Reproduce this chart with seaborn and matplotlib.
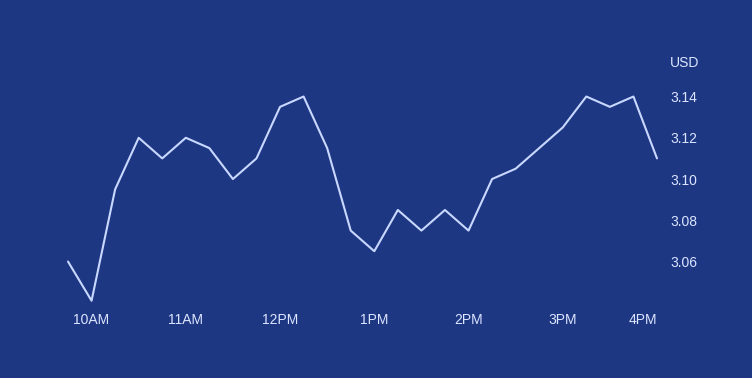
import numpy as np
import pandas as pd
import matplotlib
matplotlib.use("Agg")
import matplotlib.pyplot as plt
import seaborn as sns

# 15-minute prices from 9:45 to 16:00
times = ["9:45", "10:00", "10:15", "10:30", "10:45", "11:00", "11:15", "11:30", "11:45",
         "12:00", "12:15", "12:30", "12:45", "13:00", "13:15", "13:30", "13:45", "14:00",
         "14:15", "14:30", "14:45", "15:00", "15:15", "15:30", "15:45", "16:00"]
prices = [3.060, 3.041, 3.095, 3.120, 3.110, 3.120, 3.115, 3.100, 3.110,
          3.135, 3.140, 3.115, 3.075, 3.065, 3.085, 3.075, 3.085, 3.075,
          3.100, 3.105, 3.115, 3.125, 3.140, 3.135, 3.140, 3.110]
tick_times = ["10:00", "11:00", "12:00", "13:00", "14:00", "15:00", "16:00"]
tick_labels = ["10AM", "11AM", "12PM", "1PM", "2PM", "3PM", "4PM"]
y_ticks = [3.06, 3.08, 3.10, 3.12, 3.14]
unit_label = "USD"

def to_min(t):
    h, m = t.split(":")
    return int(h) * 60 + int(m)

df = pd.DataFrame({"minute": [to_min(t) for t in times], "price": prices})

bg = "#1d3783"
fg = "#dce5ff"
line_c = "#c9d8ff"

sns.set_theme(style="white")
plt.rcParams["font.family"] = ["Liberation Sans", "DejaVu Sans"]

fig = plt.figure(figsize=(7.52, 3.78), dpi=100, facecolor=bg)
ax = fig.add_axes([68 / 752, 1 - 313.1 / 378, (657 - 68) / 752, (313.1 - 75.9) / 378])
ax.set_facecolor(bg)

sns.lineplot(data=df, x="minute", y="price", ax=ax, color=line_c, linewidth=1.5)
for ln in ax.get_lines():
    ln.set_clip_on(False)

ax.set_xlim(df["minute"].min(), df["minute"].max())
ax.set_ylim(3.035, 3.15)
ax.set_xticks([to_min(t) for t in tick_times])
ax.set_xticklabels(tick_labels)
ax.set_yticks(y_ticks)
ax.set_yticklabels([f"{v:.2f}" for v in y_ticks])
ax.yaxis.tick_right()
ax.tick_params(axis="x", length=0, pad=0, colors=fg, labelsize=10)
ax.tick_params(axis="y", length=0, pad=10, colors=fg, labelsize=10)
xl = ax.get_xticklabels()
xl[-1].set_horizontalalignment("right")
for s in ax.spines.values():
    s.set_visible(False)
ax.set_xlabel("")
ax.set_ylabel("")
ax.grid(False)

fig.text(670 / 752, 1 - 62.7 / 378, unit_label, color=fg, fontsize=10, va="center", ha="left")

fig.savefig("out.png", dpi=100, facecolor=bg)
